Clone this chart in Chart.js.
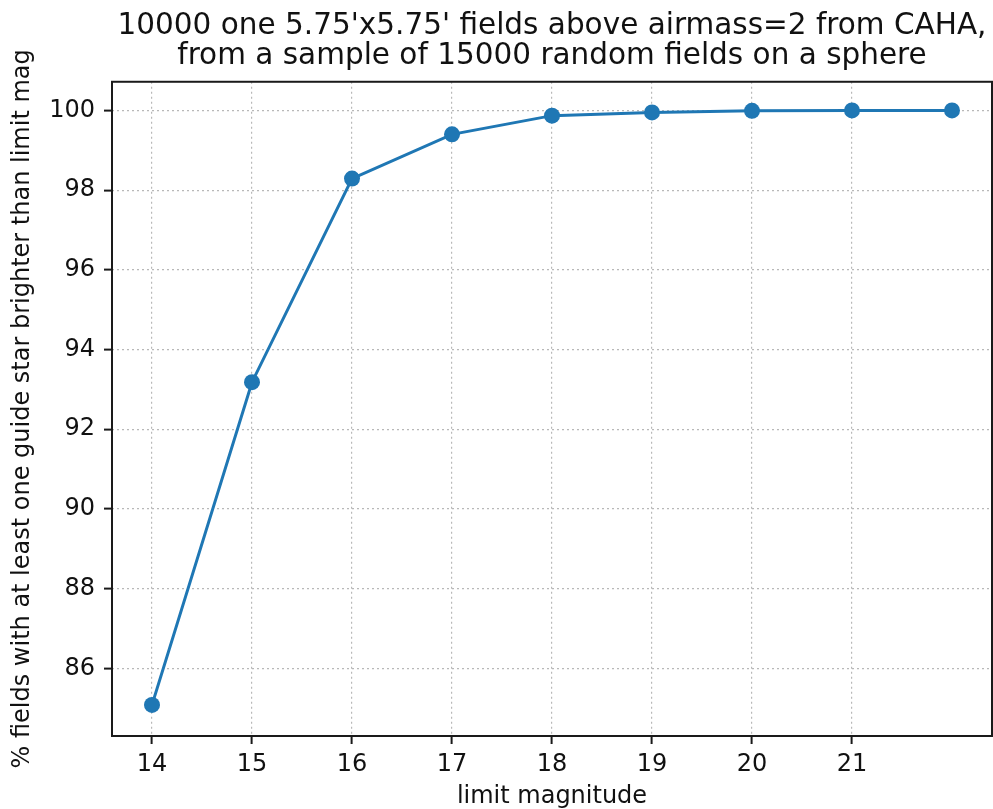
<!DOCTYPE html>
<html>
<head>
<meta charset="utf-8">
<script src="https://cdn.jsdelivr.net/npm/chart.js@4.4.1/dist/chart.umd.min.js"></script>
<style>
  html, body { margin: 0; padding: 0; background: #ffffff; }
  #c { display: block; }
</style>
</head>
<body>
<canvas id="c" width="993" height="809"></canvas>
<script>
// ---- data ----
const limitMagnitudes = [14, 15, 16, 17, 18, 19, 20, 21, 22];
const percentFields = [85.08, 93.18, 98.29, 99.40, 99.87, 99.95, 99.99, 100.0, 100.0];
const xTickValues = [14, 15, 16, 17, 18, 19, 20, 21];
const yTickValues = [86, 88, 90, 92, 94, 96, 98, 100];
const titleLines = ["10000 one 5.75'x5.75' fields above airmass=2 from CAHA,", "from a sample of 15000 random fields on a sphere"];
const xLabel = "limit magnitude";
const yLabel = "% fields with at least one guide star brighter than limit mag";

const FONT = "'DejaVu Sans', sans-serif";
const LINE = '#1f77b4';

const framePlugin = {
  id: 'frame',
  afterDatasetsDraw(chart) {
    const {ctx, chartArea: a} = chart;
    ctx.save();
    ctx.strokeStyle = '#1a1a1a';
    ctx.lineWidth = 2;
    ctx.setLineDash([]);
    ctx.strokeRect(a.left, a.top, a.right - a.left, a.bottom - a.top);
    ctx.restore();
  }
};

new Chart(document.getElementById('c'), {
  type: 'line',
  data: {
    datasets: [{
      data: limitMagnitudes.map((m, i) => ({x: m, y: percentFields[i]})),
      borderColor: LINE,
      backgroundColor: LINE,
      borderWidth: 3,
      pointRadius: 8,
      pointHoverRadius: 8,
      pointBorderWidth: 0,
      pointBackgroundColor: LINE,
      tension: 0,
      clip: false
    }]
  },
  options: {
    responsive: false,
    animation: false,
    devicePixelRatio: 1,
    layout: { autoPadding: false, padding: { left: 0, right: 1, top: 0, bottom: 0 } },
    plugins: {
      legend: { display: false },
      tooltip: { enabled: false },
      title: {
        display: true,
        fullSize: false,
        text: titleLines,
        color: '#111111',
        font: { family: FONT, size: 29.5, weight: 'normal', lineHeight: 1.03 },
        padding: { top: 11, bottom: 10 }
      }
    },
    scales: {
      x: {
        type: 'linear',
        min: 13.6,
        max: 22.4,
        afterBuildTicks: s => { s.ticks = xTickValues.map(v => ({value: v})); },
        afterFit: s => { s.height = 73; s.paddingLeft = 0; s.paddingRight = 0; },
        ticks: {
          color: '#111111',
          font: { family: FONT, size: 24, lineHeight: 1.0 },
          padding: 9,
          maxRotation: 0,
          autoSkip: false,
          callback: v => String(v)
        },
        grid: {
          color: '#b8b8b8',
          lineWidth: 1.2,
          tickLength: 8,
          tickColor: '#1a1a1a',
          tickWidth: 2,
          tickBorderDash: []
        },
        border: { display: false, dash: [2, 3] },
        title: {
          display: true,
          text: xLabel,
          color: '#111111',
          font: { family: FONT, size: 24, lineHeight: 1.0 },
          padding: { top: 0, bottom: 0 }
        }
      },
      y: {
        type: 'linear',
        min: 84.30,
        max: 100.72,
        afterBuildTicks: s => { s.ticks = yTickValues.map(v => ({value: v})); },
        afterFit: s => { s.width = 112; s.paddingTop = 0; s.paddingBottom = 0; },
        ticks: {
          color: '#111111',
          font: { family: FONT, size: 24, lineHeight: 1.0 },
          padding: 9,
          autoSkip: false,
          callback: v => String(v)
        },
        grid: {
          color: '#b8b8b8',
          lineWidth: 1.2,
          tickLength: 8,
          tickColor: '#1a1a1a',
          tickWidth: 2,
          tickBorderDash: []
        },
        border: { display: false, dash: [2, 3] },
        title: {
          display: true,
          text: yLabel,
          color: '#111111',
          font: { family: FONT, size: 24, lineHeight: 1.0 },
          padding: { top: 11, bottom: 0 }
        }
      }
    }
  },
  plugins: [framePlugin]
});
</script>
</body>
</html>
